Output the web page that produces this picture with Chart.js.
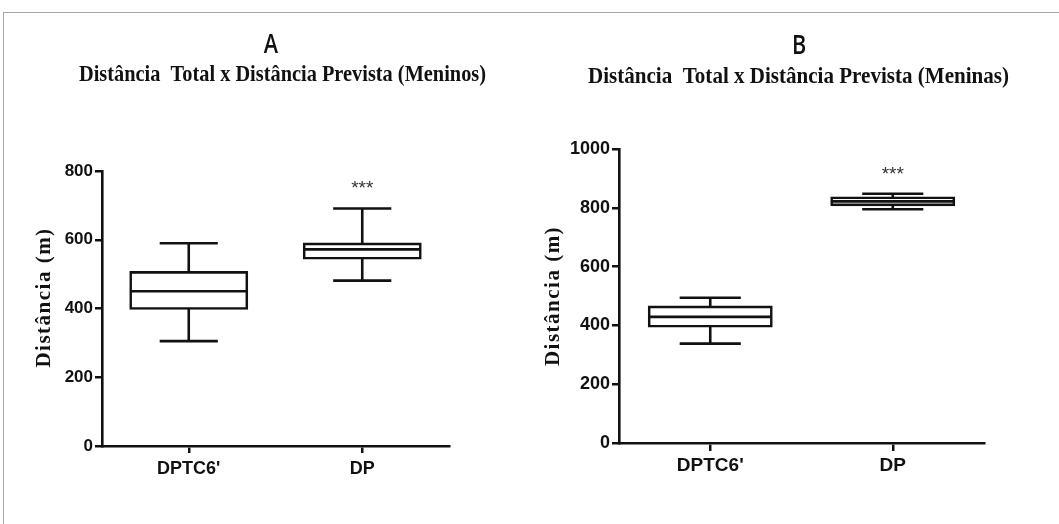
<!DOCTYPE html>
<html><head><meta charset="utf-8">
<script src="https://cdn.jsdelivr.net/npm/chart.js@4.4.1/dist/chart.umd.min.js"></script>
<style>
html,body{margin:0;padding:0;background:#fff;width:1059px;height:524px;overflow:hidden;position:relative}
#frame{position:absolute;left:3px;top:12px;width:1100px;height:600px;border-top:1.5px solid #a8a8a8;border-left:1.5px solid #a8a8a8}
#ca{position:absolute;left:0;top:0}
#cb{position:absolute;left:530px;top:0}
</style></head><body>
<div id="frame"></div>
<canvas id="ca" width="530" height="524"></canvas>
<canvas id="cb" width="529" height="524"></canvas>
<script>
// ---- data ----
const categories = ["DPTC6'", "DP"];
const significance = ["", "***"];

// A: Meninos
const boysMin    = [305, 481];
const boysQ1     = [400, 546];
const boysMedian = [450, 572];
const boysQ3     = [505, 588];
const boysMax    = [590, 691];
const boysTicks  = [0, 200, 400, 600, 800];

// B: Meninas
const girlsMin    = [338, 795];
const girlsQ1     = [397, 810];
const girlsMedian = [429, 822];
const girlsQ3     = [463, 834];
const girlsMax    = [494, 848];
const girlsTicks  = [0, 200, 400, 600, 800, 1000];

const INK = '#111';

const boxPlugin = {
  id: 'boxWhiskers',
  afterDatasetsDraw(chart, args, o) {
    const ctx = chart.ctx, y = chart.scales.y;
    const meta = chart.getDatasetMeta(0);
    ctx.save();
    ctx.strokeStyle = INK; ctx.lineWidth = o.lw; ctx.lineCap = 'butt';
    meta.data.forEach((bar, i) => {
      const x = bar.x, w = bar.width;
      const pMax = y.getPixelForValue(o.max[i]);
      const pQ3 = y.getPixelForValue(o.q3[i]);
      const pMed = y.getPixelForValue(o.median[i]);
      const pQ1 = y.getPixelForValue(o.q1[i]);
      const pMin = y.getPixelForValue(o.min[i]);
      ctx.beginPath();
      ctx.moveTo(x, pMax); ctx.lineTo(x, pQ3);
      ctx.moveTo(x - w / 4, pMax); ctx.lineTo(x + w / 4, pMax);
      ctx.moveTo(x, pQ1); ctx.lineTo(x, pMin);
      ctx.moveTo(x - w / 4, pMin); ctx.lineTo(x + w / 4, pMin);
      ctx.moveTo(x - w / 2, pMed); ctx.lineTo(x + w / 2, pMed);
      ctx.stroke();
      if (o.sig[i]) {
        ctx.fillStyle = '#333';
        ctx.font = o.sigFont;
        ctx.textAlign = 'center';
        ctx.textBaseline = 'alphabetic';
        ctx.fillText(o.sig[i], x, pMax - o.sigGap);
      }
    });
    ctx.restore();
  }
};

const textPlugin = {
  id: 'texts',
  afterDraw(chart, args, o) {
    const ctx = chart.ctx;
    o.items.forEach(t => {
      ctx.save();
      ctx.translate(t.x, t.y);
      if (t.rot) ctx.rotate(t.rot);
      ctx.scale(t.sx || 1, 1);
      ctx.font = t.font;
      ctx.fillStyle = t.color || INK;
      ctx.textAlign = 'center';
      ctx.textBaseline = 'middle';
      if (t.ls) ctx.letterSpacing = t.ls;
      ctx.fillText(t.text, 0, 0);
      ctx.restore();
    });
  }
};

function makeChart(id, s, cfg) {
  return new Chart(document.getElementById(id), {
    type: 'bar',
    data: {
      labels: categories,
      datasets: [{
        data: s.q1.map((v, i) => [v, s.q3[i]]),
        backgroundColor: '#fff',
        borderColor: INK,
        borderWidth: 2.6,
        borderSkipped: false,
        inflateAmount: 1.3,
        barPercentage: 0.67,
        categoryPercentage: 1
      }]
    },
    options: {
      responsive: false,
      animation: false,
      layout: { padding: cfg.padding },
      plugins: {
        legend: { display: false },
        tooltip: { enabled: false },
        boxWhiskers: Object.assign({ lw: 2.6, sig: significance, sigFont: '19px "Liberation Sans"', sigGap: cfg.sigGap }, s),
        texts: { items: cfg.texts }
      },
      scales: {
        x: {
          type: 'category',
          offset: true,
          grid: { offset: false, drawOnChartArea: false, drawTicks: true, tickLength: cfg.xTick, color: INK, lineWidth: 2.5 },
          border: { display: true, color: INK, width: 2.6 },
          ticks: { color: INK, font: { family: '"Liberation Sans", Arial, sans-serif', weight: 'bold', size: cfg.xFont }, padding: cfg.xPad, maxRotation: 0 },
          afterFit: sc => { sc.height = cfg.xHeight; }
        },
        y: {
          min: 0,
          max: cfg.ticks[cfg.ticks.length - 1],
          afterBuildTicks: sc => { sc.ticks = cfg.ticks.map(v => ({ value: v })); },
          grid: { drawOnChartArea: false, drawTicks: true, tickLength: 7, color: INK, lineWidth: 2.5 },
          border: { display: true, color: INK, width: 2.6 },
          ticks: { color: INK, font: { family: '"Liberation Sans", Arial, sans-serif', weight: 'bold', size: cfg.yFont }, padding: 2, callback: v => String(v) },
          afterFit: sc => { sc.width = cfg.yWidth; }
        }
      }
    },
    plugins: [boxPlugin, textPlugin]
  });
}

makeChart('ca',
  { min: boysMin, q1: boysQ1, median: boysMedian, q3: boysQ3, max: boysMax },
  {
    padding: { left: 0, right: 81, top: 171, bottom: 0 },
    yWidth: 102, xHeight: 78, ticks: boysTicks, yFont: 17, xFont: 18, xTick: 7, xPad: 5, sigGap: 14,
    texts: [
      { text: 'A', x: 271, y: 45, font: '600 27px "Open Sans"', sx: 0.8 },
      { text: 'Distância  Total x Distância Prevista (Meninos)', x: 282.5, y: 75.5, font: 'bold 23px "Liberation Serif"', sx: 0.885 },
      { text: 'Distância (m)', x: 45, y: 297.5, rot: -Math.PI / 2, font: 'bold 21px "Liberation Serif"', ls: '1.5px' }
    ]
  });

makeChart('cb',
  { min: girlsMin, q1: girlsQ1, median: girlsMedian, q3: girlsQ3, max: girlsMax },
  {
    padding: { left: 0, right: 75, top: 149, bottom: 0 },
    yWidth: 89, xHeight: 81, ticks: girlsTicks, yFont: 18, xFont: 19, xTick: 8, xPad: 3, sigGap: 14,
    texts: [
      { text: 'B', x: 269, y: 46, font: '600 27px "Open Sans"', sx: 0.8 },
      { text: 'Distância  Total x Distância Prevista (Meninas)', x: 268.5, y: 76.7, font: 'bold 24px "Liberation Serif"', sx: 0.877 },
      { text: 'Distância (m)', x: 23.5, y: 296, rot: -Math.PI / 2, font: 'bold 21px "Liberation Serif"', ls: '1.5px' }
    ]
  });
</script>
</body></html>
